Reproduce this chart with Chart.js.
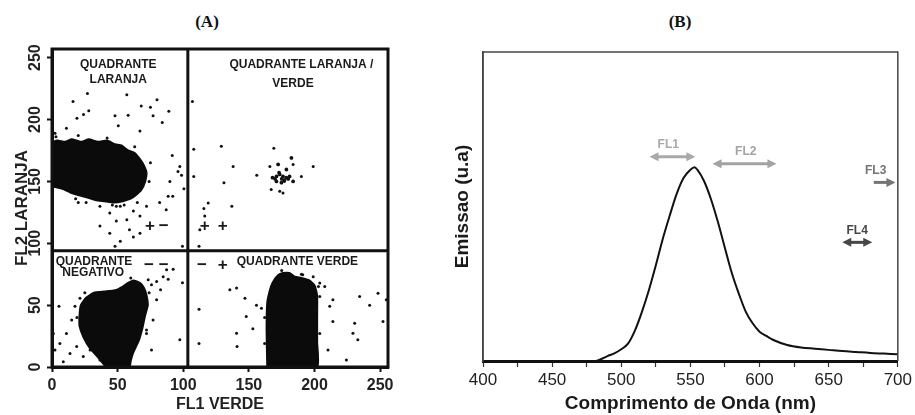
<!DOCTYPE html>
<html>
<head>
<meta charset="utf-8">
<script src="https://cdn.jsdelivr.net/npm/chart.js@4.4.1/dist/chart.umd.min.js"></script>
<style>
  body { margin: 0; background: #fff; }
  #wrap { position: relative; width: 915px; height: 415px; }
  .panel-title {
    position: absolute; top: 12px; transform: translateX(-50%);
    font: bold 17px "Liberation Serif", "Times New Roman", serif; color: #111; line-height: 20px;
  }
  canvas { position: absolute; top: 0; }
</style>
</head>
<body>
<div id="wrap">
  <div class="panel-title" style="left:207px">(A)</div>
  <div class="panel-title" style="left:680px">(B)</div>
  <canvas id="flowChart" width="400" height="415" style="left:0"></canvas>
  <canvas id="spectrumChart" width="515" height="415" style="left:400px"></canvas>
</div>
<script>
// ---- (A) flow cytometry data ----
const flTicks = [0, 50, 100, 150, 200, 250];
const fl1Gate = 103.5;
const fl2Gate = 94;

// dense populations, outlines (FL1, FL2)
const laranjaCloud = [[0,146],[0,181],[4,183],[10,182],[15,184],[22,182],[28,184],[35,182],[42,183],[48,180],[53,179],[58,175],[63,173],[67,168],[70,163],[72,157],[71,150],[68,143],[64,139],[60,136],[54,134],[47,133],[40,134],[33,135],[27,137],[20,139],[14,141],[8,144],[0,146]];
const negativoCloud = [[41,0],[35,8],[29,15],[24,24],[21,33],[21,42],[22,50],[26,56],[32,60],[40,61],[48,62],[54,65],[58,68],[62,70],[67,68],[70,64],[72,58],[73,50],[71,42],[69,32],[66,21],[62,12],[60,5],[59,0],[41,0]];
const verdeCloud = [[164,0],[163.5,30],[164,52],[166,62],[168,68],[172,74],[176,76],[181,76],[185,73],[190,72],[196,70],[200,66],[202,58],[202,40],[202,20],[202,0],[164,0]];
const duploCluster = [[168,153],[171,154],[173.5,155.6],[176,154],[178.6,153],[181,154],[183.7,150],[174.8,149],[171,150],[172.3,163.7],[178.6,159.6],[182.4,169],[170,152],[175,152],[177,151],[180,152],[173,157]];

// sparse events
const scatterEvents = [
  [27,221],[16,214.5],[57,220],[80,216],[68,211],[75,210],[89,206.6],[28,207],[24,204],[19,201],[48,203],[58,203.4],[77,203],[84,197.5],
  [2.3,189],[11,193],[50.5,195],[67,190.7],[91.6,171],[97.4,162],[96,158],[98.7,155],[89.8,150],[100.5,144],[88.5,138],[82,133],
  [72,130],[62,126],[67,122],[57,119],[49,118],[36.5,114],[59,111],[44,108],[67,108],[52,101.6],[62,105],[48,97.5],[92,138],[87,127],
  [99.4,97.5],[26,133],[20,133],[36.5,130],[44,124.5],[46,131],[49,130],[52,130],[55,131],
  [3,186],[20,187],[42,185],[63,178],[75,165],[74,150],[65,133],[18,136],
  [107,214.5],[108,176],[129,178.5],[138,162],[131,149],[108,154],[119,132.6],[115.7,128],[116.4,122],[112.6,111],[112,97.5],[137,130],
  [156,155],[199,162],[190,154],[183.7,163.7],[169,176.7],[173.5,142],[176,140.7],[167,143.4],[177,150],[166,162],
  [5.3,49],[2.3,13.8],[6,19],[11,27],[15,38],[13.7,11],[18.8,16.5],[23.8,8.4],[29,13.8],[8.6,4.3],[17.5,49],[21.3,55.6],[36.5,5.7],[1,27],
  [97.4,22],[99.4,68],[92.3,79],[88.5,71],[84.7,73],[79.7,69],[75.8,66.5],[82.7,62.4],[87.3,78.6],[73.3,70.5],[79.7,54.3],[77,38],[72,27],[75.8,13.8],
  [19,40],[25,60],[60,72],[74,60],[72,30],
  [112,46.7],[112,19],[135.5,62.4],[140.6,63.8],[147,55.6],[140.6,27.3],[141,16.5],[148,40.8],[155.8,50],[159.6,47.5],[153,31],[162,19],
  [204,57],[207.8,65],[214,54.3],[211.6,49],[214,36.7],[210.3,13.8],[224.3,5.7],[229.3,27.3],[230.6,35.4],[234.4,57],[242,50],[248.4,59.7],
  [254.7,54.3],[252.2,36.7],[233,22],[199,73],[191,74.5],[204,67.8],[201.4,46],[204,27],
  [162,40],[175,78],[190,75],[203,65]
];

const quadrantLabels = [
  { text: 'QUADRANTE', x: 50.5, y: 244 },
  { text: 'LARANJA', x: 50.5, y: 232.6 },
  { text: 'QUADRANTE LARANJA /', x: 190, y: 244 },
  { text: 'VERDE', x: 183.6, y: 229.3 },
  { text: 'QUADRANTE', x: 32, y: 85.3 },
  { text: 'NEGATIVO', x: 31.4, y: 75.9 },
  { text: 'QUADRANTE VERDE', x: 187, y: 84.8 }
];
const signMarks = [
  { text: '+', x: 74.6, y: 113.5 }, { text: '\u2212', x: 85.2, y: 113.5 },
  { text: '+', x: 116.4, y: 113.5 }, { text: '+', x: 130.1, y: 113.5 },
  { text: '\u2212', x: 73.8, y: 81.8 }, { text: '\u2212', x: 85.2, y: 81.8 },
  { text: '\u2212', x: 114.2, y: 81.8 }, { text: '+', x: 130.1, y: 81.8 }
];

// ---- (B) emission spectrum data ----
const waveTicks = [400, 450, 500, 550, 600, 650, 700];
const waveMinorTicks = [425, 475, 525, 575, 625, 675];
const wavelength = [400, 480, 483, 490, 495, 500, 505, 510, 515, 520, 525, 530, 535, 540, 545, 550, 553, 555, 560, 565, 570, 575, 580, 585, 590, 595, 600, 605, 610, 620, 630, 640, 650, 660, 670, 680, 690, 700];
const emission   = [0, 0, 0.2, 1.6, 2.5, 3.8, 5.7, 10, 16, 23, 31, 39.5, 47, 54, 59.2, 61.9, 62.7, 61.9, 58.1, 52.2, 44.8, 36.5, 28.4, 21.8, 16, 12.2, 9.5, 8.1, 6.8, 5.2, 4.4, 4.0, 3.6, 3.2, 2.9, 2.6, 2.4, 2.2];
const emissionBands = [
  { name: 'FL1', from: 520.4, to: 553.6, level: 66.1, labelAt: 534, heads: 'both' },
  { name: 'FL2', from: 566, to: 612.2, level: 63.8, labelAt: 590, heads: 'both' },
  { name: 'FL3', from: 682.6, to: 698.3, level: 57.8, labelAt: 684, heads: 'end' },
  { name: 'FL4', from: 659.8, to: 681.5, level: 38.4, labelAt: 670.6, heads: 'both' }
];
const bandColors = { FL1: '#a9a9a9', FL2: '#a3a3a3', FL3: '#747474', FL4: '#474747' };

Chart.defaults.font.family = '"Liberation Sans", Arial, sans-serif';
Chart.defaults.color = '#222';

const toPoints = arr => arr.map(([x, y]) => ({ x, y }));
const cloud = (pts) => ({
  data: toPoints(pts),
  showLine: true,
  fill: 'shape',
  tension: 0.15,
  borderColor: '#0b0b0b',
  backgroundColor: '#0b0b0b',
  borderWidth: 2,
  pointRadius: 0
});

// Quadrant frame, gates and labels
const quadrantPlugin = {
  id: 'quadrants',
  afterDatasetsDraw(chart) {
    const { ctx, chartArea: a, scales: { x, y } } = chart;
    ctx.save();
    ctx.strokeStyle = '#111';
    ctx.lineWidth = 3;
    ctx.strokeRect(a.left, a.top, a.width, a.height);
    const gx = x.getPixelForValue(fl1Gate);
    const gy = y.getPixelForValue(fl2Gate);
    ctx.beginPath();
    ctx.moveTo(gx, a.top); ctx.lineTo(gx, a.bottom);
    ctx.moveTo(a.left, gy); ctx.lineTo(a.right, gy);
    ctx.stroke();

    ctx.fillStyle = '#1a1a1a';
    ctx.textAlign = 'center';
    ctx.textBaseline = 'middle';
    ctx.font = 'bold 12px "Liberation Sans", Arial, sans-serif';
    quadrantLabels.forEach(l => ctx.fillText(l.text, x.getPixelForValue(l.x), y.getPixelForValue(l.y)));
    ctx.font = 'bold 17px "Liberation Sans", Arial, sans-serif';
    signMarks.forEach(m => ctx.fillText(m.text, x.getPixelForValue(m.x), y.getPixelForValue(m.y)));
    ctx.restore();
  }
};

// Initialize Flow Cytometry Chart
const flowChart = new Chart(
  document.getElementById('flowChart'),
  {
    type: 'scatter',
    data: {
      datasets: [
        {
          data: toPoints(scatterEvents),
          backgroundColor: '#111',
          borderWidth: 0,
          pointRadius: 1.5
        },
        {
          data: toPoints(duploCluster),
          backgroundColor: '#111',
          borderWidth: 0,
          pointRadius: 1.9
        },
        cloud(laranjaCloud),
        cloud(negativoCloud),
        cloud(verdeCloud)
      ]
    },
    options: {
      responsive: false,
      animation: false,
      layout: { padding: { top: 49, right: 12, bottom: 0, left: 0 } },
      plugins: {
        legend: { display: false },
        tooltip: { enabled: false }
      },
      scales: {
        x: {
          type: 'linear',
          min: 0,
          max: 256,
          afterBuildTicks: axis => { axis.ticks = flTicks.map(v => ({ value: v })); },
          afterFit: scale => { scale.height = 48; },
          grid: { drawOnChartArea: false, tickLength: 5, tickColor: '#111', tickWidth: 2 },
          border: { color: '#111', width: 3 },
          ticks: { padding: 4, color: '#222', font: { size: 16, weight: 'bold' } },
          title: {
            display: true,
            text: 'FL1 VERDE',
            color: '#222',
            font: { size: 16, weight: 'bold' },
            padding: { top: 0, bottom: 1 }
          }
        },
        y: {
          type: 'linear',
          min: 0,
          max: 257,
          afterBuildTicks: axis => { axis.ticks = flTicks.map(v => ({ value: v })); },
          afterFit: scale => { scale.width = 52; },
          grid: { drawOnChartArea: false, tickLength: 5, tickColor: '#111', tickWidth: 2 },
          border: { color: '#111', width: 3 },
          ticks: { padding: -2, minRotation: 90, maxRotation: 90, crossAlign: 'center', color: '#222', font: { size: 16, weight: 'bold' } },
          title: {
            display: true,
            text: 'FL2 LARANJA',
            color: '#222',
            font: { size: 17, weight: 'bold' },
            padding: { top: 12, bottom: 0 }
          }
        }
      }
    },
    plugins: [quadrantPlugin]
  }
);

// Band arrows and frame for the spectrum
const bandPlugin = {
  id: 'bands',
  afterDatasetsDraw(chart) {
    const { ctx, chartArea: a, scales: { x, y } } = chart;
    ctx.save();
    ctx.strokeStyle = '#444';
    ctx.lineWidth = 1.5;
    ctx.beginPath();
    ctx.moveTo(a.left, a.bottom); ctx.lineTo(a.left, a.top);
    ctx.lineTo(a.right, a.top); ctx.lineTo(a.right, a.bottom);
    ctx.stroke();

    const head = (tipX, py, dir, color) => {
      ctx.beginPath();
      ctx.moveTo(tipX, py);
      ctx.lineTo(tipX - dir * 9, py - 4.5);
      ctx.lineTo(tipX - dir * 9, py + 4.5);
      ctx.closePath();
      ctx.fillStyle = color;
      ctx.fill();
    };
    ctx.textAlign = 'center';
    ctx.textBaseline = 'middle';
    ctx.font = 'bold 12px "Liberation Sans", Arial, sans-serif';
    emissionBands.forEach(b => {
      const color = bandColors[b.name];
      const x1 = x.getPixelForValue(b.from);
      const x2 = x.getPixelForValue(b.to);
      const py = y.getPixelForValue(b.level);
      ctx.strokeStyle = color;
      ctx.lineWidth = 3;
      ctx.beginPath();
      ctx.moveTo(b.heads === 'both' ? x1 + 6 : x1, py);
      ctx.lineTo(x2 - 6, py);
      ctx.stroke();
      head(x2, py, 1, color);
      if (b.heads === 'both') head(x1, py, -1, color);
      ctx.fillStyle = color;
      ctx.fillText(b.name, x.getPixelForValue(b.labelAt), py - 12);
    });
    ctx.restore();
  }
};

// Initialize Emission Spectrum Chart
const spectrumChart = new Chart(
  document.getElementById('spectrumChart'),
  {
    type: 'line',
    data: {
      datasets: [
        {
          data: wavelength.map((w, i) => ({ x: w, y: emission[i] })),
          borderColor: '#111',
          borderWidth: 2,
          pointRadius: 0,
          cubicInterpolationMode: 'monotone',
          fill: false
        }
      ]
    },
    options: {
      responsive: false,
      animation: false,
      layout: { padding: { top: 52, right: 16, bottom: 0, left: 0 } },
      plugins: {
        legend: { display: false },
        tooltip: { enabled: false }
      },
      scales: {
        x: {
          type: 'linear',
          min: 400,
          max: 700,
          afterBuildTicks: axis => {
            axis.ticks = [...waveTicks, ...waveMinorTicks].sort((p, q) => p - q).map(v => ({ value: v }));
          },
          afterFit: scale => { scale.height = 54; },
          grid: { drawOnChartArea: false, tickLength: 6, tickColor: '#333', tickWidth: 1.2 },
          border: { color: '#111', width: 3 },
          ticks: {
            padding: 3,
            color: '#222',
            font: { size: 17 },
            autoSkip: false,
            maxRotation: 0,
            callback: v => (waveTicks.includes(v) ? v : '')
          },
          title: {
            display: true,
            text: 'Comprimento de Onda (nm)',
            color: '#1a1a1a',
            font: { size: 19, weight: 'bold' },
            padding: { top: 0, bottom: 0 }
          }
        },
        y: {
          min: 0,
          max: 100,
          afterFit: scale => { scale.width = 83; },
          grid: { display: false },
          border: { color: '#444', width: 1.5 },
          ticks: { display: false },
          title: {
            display: true,
            text: 'Emissao (u.a)',
            color: '#1a1a1a',
            font: { size: 19, weight: 'bold' },
            padding: { top: 51, bottom: 0 }
          }
        }
      }
    },
    plugins: [bandPlugin]
  }
);
</script>
</body>
</html>
